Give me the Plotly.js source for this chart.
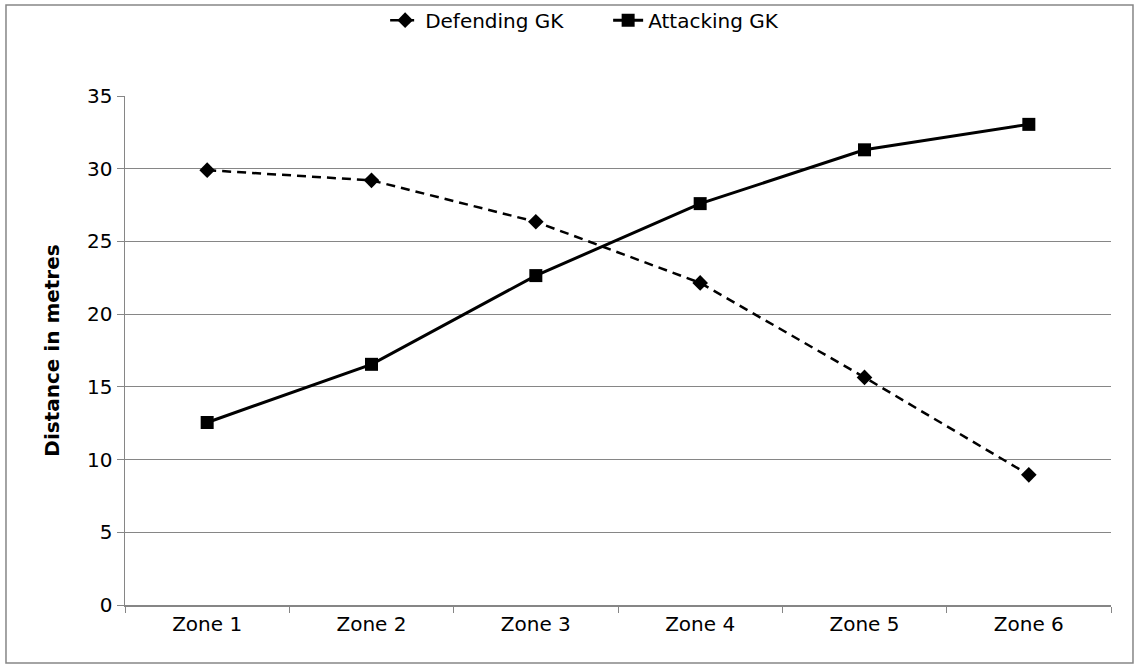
<!DOCTYPE html>
<html><head><meta charset="utf-8">
<script src="https://cdn.plot.ly/plotly-3.0.1.min.js"></script>
<style>html,body{margin:0;padding:0;background:#fff}</style>
</head><body><div id="chart" style="width:1141px;height:666px"></div>
<script>
var zones = ["Zone 1","Zone 2","Zone 3","Zone 4","Zone 5","Zone 6"];
var defendingGK = [29.9, 29.2, 26.35, 22.15, 15.65, 8.95];
var attackingGK = [12.55, 16.55, 22.65, 27.6, 31.3, 33.05];
var yTicks = [0,5,10,15,20,25,30,35];

var traces = [
 {x: zones, y: defendingGK, name: "Defending GK", type: "scatter", mode: "lines+markers",
  line: {color: "#000", width: 2.5, dash: "9px,6px"},
  marker: {symbol: "diamond", size: 12, color: "#000"}},
 {x: zones, y: attackingGK, name: "Attacking GK", type: "scatter", mode: "lines+markers",
  line: {color: "#000", width: 3},
  marker: {symbol: "square", size: 13, color: "#000"}}
];
var layout = {
 width: 1141, height: 666,
 margin: {l: 125, r: 30, t: 96, b: 61, autoexpand: false},
 paper_bgcolor: "#fff", plot_bgcolor: "#fff",
 font: {family: "DejaVu Sans, Verdana, sans-serif", size: 20, color: "#000"},
 showlegend: true,
 legend: {orientation: "h", x: 0.49, xanchor: "center", y: 1.149, yanchor: "middle",
   font: {size: 20}, traceorder: "normal", bgcolor: "rgba(0,0,0,0)",
   entrywidth: 178, entrywidthmode: "pixels"},
 xaxis: {type: "category", range: [-0.5, 5.5], tickson: "boundaries", ticks: "outside",
   ticklen: 6, tickcolor: "#868686", showline: true, linecolor: "#868686", linewidth: 1.5,
   showgrid: false, zeroline: false, tickfont: {size: 20}, fixedrange: true},
 yaxis: {range: [0, 35], tickvals: yTicks, ticks: "outside", ticklen: 7, tickcolor: "#868686",
   showline: true, linecolor: "#868686", linewidth: 1.5, showgrid: true, gridcolor: "#868686",
   gridwidth: 1.2, zeroline: false, tickfont: {size: 20},
   title: {text: "<b>Distance in metres</b>", font: {size: 20}, standoff: 22}},
 shapes: [{type: "rect", xref: "paper", yref: "paper", x0: -0.1207, x1: 1.0223, y0: -0.114, y1: 1.1788,
   line: {color: "#868686", width: 1.5}}]
};
Plotly.newPlot("chart", traces, layout, {displayModeBar: false, staticPlot: true});
</script></body></html>
